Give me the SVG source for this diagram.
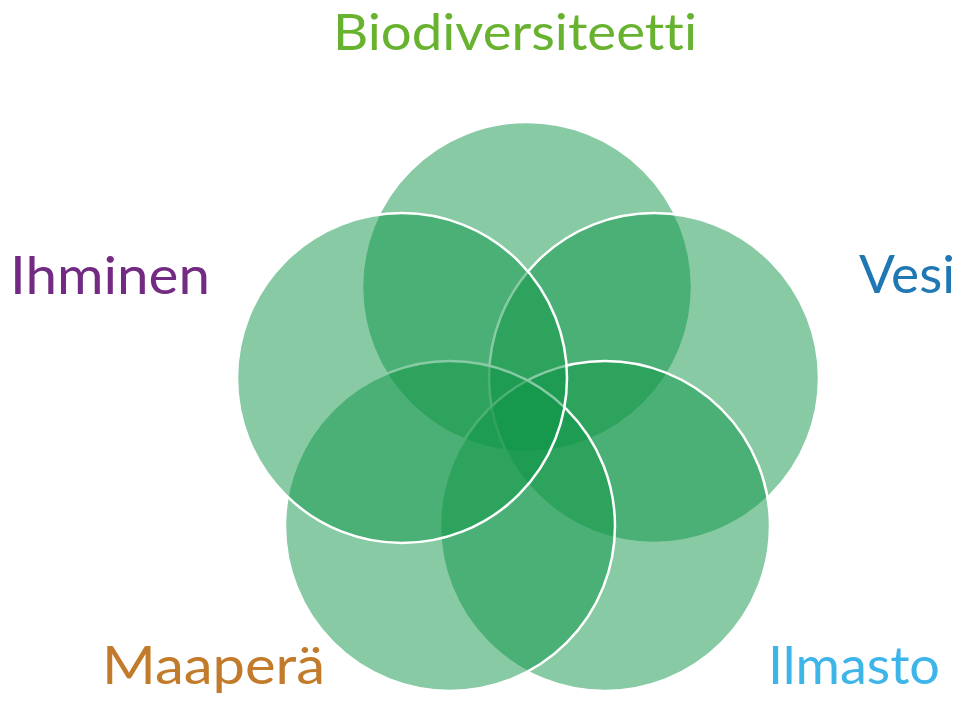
<svg xmlns="http://www.w3.org/2000/svg" width="965" height="703" viewBox="0 0 965 703">
<style>
.c{fill:#0f9548;fill-opacity:0.5;stroke:#ffffff;stroke-width:2.5}
.t{font-family:Lato,"Open Sans","Liberation Sans",sans-serif;font-size:52px;font-variant-ligatures:none;font-feature-settings:"liga" 0,"dlig" 0}
</style>
<rect width="965" height="703" fill="#ffffff"/>
<g id="circles">
<g id="n-biodiversiteetti-circle"><circle class="c" cx="527" cy="287" r="165"/></g>
<g id="n-vesi-circle"><circle class="c" cx="654" cy="378" r="165"/></g>
<g id="n-ilmasto-circle"><circle class="c" cx="605" cy="526" r="165"/></g>
<g id="n-maapera-circle"><circle class="c" cx="450" cy="526" r="165"/></g>
<g id="n-ihminen-circle"><circle class="c" cx="402" cy="378" r="165"/></g>
</g>
<g id="labels">
<g id="n-biodiversiteetti"><text class="t" x="333" y="50" fill="#67b22f" style="font-size:50px" textLength="364" lengthAdjust="spacingAndGlyphs">Biodiversiteetti</text></g>
<g id="n-ihminen"><text class="t" x="10" y="294" fill="#722a82" textLength="200" lengthAdjust="spacingAndGlyphs">Ihminen</text></g>
<g id="n-vesi"><text class="t" x="859" y="293" fill="#1f77b4" textLength="96" lengthAdjust="spacingAndGlyphs">Vesi</text></g>
<g id="n-maapera"><text class="t" x="102" y="684" fill="#c27b2a" textLength="223" lengthAdjust="spacingAndGlyphs">Maaperä</text></g>
<g id="n-ilmasto"><text class="t" x="768" y="684" fill="#3db5e8" textLength="172" lengthAdjust="spacingAndGlyphs">Ilmasto</text></g>
</g>
</svg>
